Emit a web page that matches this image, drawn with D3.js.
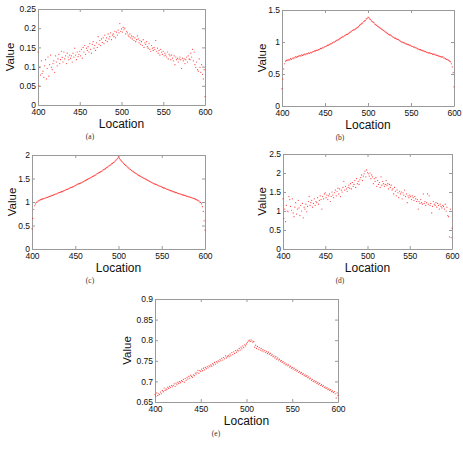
<!DOCTYPE html>
<html>
<head>
<meta charset="utf-8">
<script src="https://cdn.jsdelivr.net/npm/d3@7"></script>
<style>
  html, body { margin: 0; padding: 0; background: #fff; }
  svg { display: block; }
</style>
</head>
<body>
<script>
// ---------- data ----------
const locationStart = 400;
const locationEnd = 600;
const locations = d3.range(locationStart, locationEnd + 1);
const xTicks = [400, 450, 500, 550, 600];

const valuesA = [
  0.138,0.050,0.098,0.078,0.115,0.082,0.088,0.072,0.102,0.118,
  0.068,0.095,0.125,0.075,0.105,0.130,0.098,0.092,0.108,0.115,
  0.085,0.128,0.112,0.102,0.120,0.132,0.108,0.118,0.140,0.124,
  0.112,0.138,0.120,0.128,0.108,0.135,0.125,0.118,0.130,0.122,
  0.128,0.112,0.135,0.125,0.148,0.130,0.118,0.138,0.126,0.132,
  0.140,0.128,0.145,0.122,0.150,0.138,0.155,0.132,0.148,0.142,
  0.152,0.138,0.160,0.145,0.135,0.158,0.165,0.148,0.155,0.142,
  0.162,0.150,0.178,0.158,0.168,0.155,0.172,0.163,0.175,0.160,
  0.182,0.168,0.175,0.165,0.185,0.172,0.178,0.188,0.170,0.182,
  0.185,0.178,0.192,0.175,0.190,0.182,0.195,0.188,0.212,0.192,
  0.198,0.190,0.202,0.196,0.200,0.185,0.192,0.188,0.182,0.178,
  0.185,0.175,0.180,0.172,0.178,0.168,0.175,0.165,0.170,0.180,
  0.172,0.162,0.168,0.158,0.165,0.155,0.170,0.150,0.162,0.158,
  0.165,0.152,0.148,0.160,0.145,0.140,0.155,0.148,0.142,0.150,
  0.145,0.168,0.140,0.148,0.135,0.142,0.130,0.145,0.138,0.132,
  0.140,0.128,0.135,0.130,0.125,0.138,0.120,0.132,0.128,0.118,
  0.130,0.122,0.115,0.128,0.105,0.125,0.118,0.122,0.112,0.120,
  0.125,0.118,0.095,0.122,0.115,0.120,0.108,0.118,0.125,0.112,
  0.128,0.120,0.118,0.135,0.125,0.145,0.115,0.138,0.105,0.098,
  0.112,0.092,0.088,0.120,0.098,0.085,0.105,0.080,0.068,0.092,
  0.022
];

const valuesB = [
  0.27,0.42,0.58,0.66,0.70,0.71,0.72,0.71,0.73,0.72,
  0.74,0.73,0.75,0.74,0.76,0.75,0.77,0.76,0.77,0.78,
  0.78,0.79,0.78,0.80,0.79,0.80,0.81,0.80,0.82,0.81,
  0.82,0.83,0.82,0.84,0.83,0.84,0.85,0.85,0.86,0.86,
  0.87,0.87,0.88,0.88,0.89,0.90,0.90,0.91,0.91,0.92,
  0.93,0.93,0.94,0.95,0.95,0.96,0.97,0.97,0.98,0.99,
  1.00,1.00,1.01,1.02,1.03,1.03,1.04,1.05,1.06,1.07,
  1.08,1.08,1.09,1.10,1.11,1.12,1.12,1.13,1.14,1.15,
  1.16,1.17,1.18,1.19,1.19,1.20,1.21,1.22,1.23,1.24,
  1.26,1.27,1.28,1.29,1.30,1.32,1.33,1.34,1.36,1.37,
  1.39,1.38,1.36,1.35,1.33,1.32,1.31,1.30,1.28,1.27,
  1.26,1.25,1.24,1.23,1.22,1.21,1.20,1.19,1.18,1.17,
  1.16,1.15,1.14,1.13,1.12,1.11,1.11,1.10,1.09,1.08,
  1.07,1.06,1.06,1.05,1.04,1.04,1.03,1.02,1.01,1.00,
  1.00,0.99,0.99,0.98,0.97,0.97,0.96,0.96,0.95,0.95,
  0.94,0.93,0.93,0.92,0.92,0.91,0.91,0.90,0.89,0.89,
  0.88,0.88,0.87,0.87,0.86,0.86,0.85,0.85,0.84,0.84,
  0.83,0.83,0.83,0.82,0.82,0.81,0.81,0.81,0.80,0.80,
  0.79,0.79,0.78,0.78,0.77,0.77,0.76,0.77,0.75,0.75,
  0.74,0.73,0.73,0.72,0.71,0.70,0.69,0.66,0.61,0.52,
  0.30
];

const valuesC = [
  0.43,0.65,0.84,0.92,0.96,0.99,1.00,1.02,1.03,1.04,
  1.05,1.06,1.06,1.07,1.08,1.08,1.09,1.10,1.10,1.11,
  1.12,1.12,1.13,1.14,1.14,1.15,1.16,1.17,1.17,1.18,
  1.19,1.20,1.20,1.21,1.22,1.22,1.23,1.24,1.25,1.26,
  1.27,1.27,1.28,1.29,1.30,1.31,1.31,1.32,1.33,1.34,
  1.35,1.36,1.37,1.38,1.39,1.39,1.40,1.41,1.42,1.43,
  1.44,1.45,1.46,1.47,1.48,1.49,1.50,1.51,1.52,1.53,
  1.54,1.55,1.56,1.57,1.58,1.60,1.61,1.62,1.63,1.64,
  1.65,1.66,1.68,1.69,1.70,1.71,1.73,1.74,1.75,1.77,
  1.78,1.79,1.81,1.82,1.84,1.85,1.87,1.89,1.91,1.93,
  1.96,1.93,1.90,1.88,1.86,1.84,1.82,1.80,1.78,1.77,
  1.75,1.73,1.72,1.70,1.69,1.67,1.66,1.65,1.63,1.62,
  1.61,1.60,1.58,1.57,1.56,1.55,1.54,1.53,1.52,1.51,
  1.50,1.49,1.48,1.47,1.46,1.45,1.44,1.43,1.42,1.41,
  1.40,1.39,1.38,1.38,1.37,1.36,1.35,1.34,1.34,1.33,
  1.32,1.31,1.30,1.30,1.29,1.28,1.27,1.27,1.26,1.25,
  1.24,1.24,1.23,1.22,1.22,1.21,1.20,1.20,1.19,1.18,
  1.18,1.17,1.17,1.16,1.15,1.15,1.14,1.14,1.13,1.12,
  1.12,1.11,1.11,1.10,1.10,1.09,1.08,1.08,1.07,1.06,
  1.05,1.04,1.03,1.02,1.00,0.99,0.96,0.90,0.80,0.60,
  0.40
];

const valuesD = [
  1.32,0.80,1.05,0.72,1.15,1.00,0.98,1.38,1.30,1.12,
  1.02,1.32,0.95,0.85,1.10,1.22,0.92,1.05,1.28,1.08,
  0.88,1.15,1.00,1.20,0.82,1.10,1.05,1.18,0.98,1.12,
  1.25,1.38,1.15,1.22,1.28,1.10,1.20,1.32,1.15,1.25,
  1.22,1.35,1.18,1.28,1.40,1.30,1.05,1.38,1.32,1.45,
  1.48,1.35,1.42,1.30,1.40,1.45,1.25,1.38,1.50,1.42,
  1.35,1.48,1.55,1.40,1.52,1.60,1.45,1.58,1.38,1.55,
  1.50,1.62,1.78,1.55,1.65,1.58,1.52,1.62,1.68,1.60,
  1.72,1.58,1.75,1.65,1.70,1.80,1.62,1.85,1.72,1.78,
  1.70,1.82,1.88,1.95,1.80,1.92,1.98,2.05,1.90,2.08,
  2.02,1.98,1.92,2.00,1.85,1.95,1.90,1.72,1.85,1.78,
  1.88,1.65,1.80,1.70,1.75,1.62,1.90,1.68,1.78,1.72,
  1.65,1.70,1.80,1.68,1.72,1.58,1.70,1.62,1.68,1.55,
  1.58,1.45,1.62,1.52,1.40,1.55,1.48,1.35,1.52,1.45,
  1.50,1.32,1.48,1.42,1.55,1.38,1.45,1.22,1.40,1.35,
  1.42,1.38,1.30,1.40,1.35,1.28,1.38,1.32,1.25,1.30,
  1.05,1.25,1.20,1.30,1.22,1.18,1.45,1.20,1.25,1.15,
  1.22,1.45,1.18,1.40,1.15,1.20,0.95,1.12,1.25,1.18,
  1.15,1.22,1.10,1.20,1.15,1.05,1.18,1.12,1.08,1.15,
  1.12,1.05,1.18,1.00,1.10,0.88,0.85,0.32,1.05,0.30,
  0.55
];

const valuesE = [
  0.668,0.664,0.672,0.666,0.670,0.668,0.674,0.670,0.678,0.675,
  0.684,0.678,0.682,0.680,0.686,0.683,0.688,0.685,0.690,0.687,
  0.690,0.694,0.688,0.696,0.692,0.698,0.695,0.700,0.697,0.702,
  0.700,0.705,0.698,0.707,0.703,0.710,0.706,0.712,0.708,0.715,
  0.712,0.710,0.716,0.714,0.720,0.718,0.722,0.727,0.720,0.726,
  0.724,0.730,0.726,0.732,0.728,0.734,0.731,0.736,0.733,0.738,
  0.736,0.740,0.737,0.743,0.740,0.746,0.742,0.748,0.745,0.750,
  0.748,0.753,0.750,0.756,0.752,0.758,0.755,0.762,0.757,0.760,
  0.763,0.760,0.766,0.762,0.770,0.765,0.772,0.768,0.775,0.771,
  0.776,0.774,0.780,0.776,0.783,0.779,0.786,0.782,0.789,0.786,
  0.791,0.795,0.798,0.800,0.797,0.801,0.798,0.795,0.797,0.783,
  0.788,0.780,0.785,0.778,0.782,0.776,0.780,0.774,0.777,0.772,
  0.775,0.770,0.773,0.768,0.771,0.766,0.768,0.763,0.765,0.760,
  0.762,0.757,0.760,0.754,0.757,0.752,0.754,0.749,0.751,0.746,
  0.748,0.743,0.745,0.740,0.742,0.738,0.740,0.735,0.737,0.732,
  0.734,0.730,0.732,0.727,0.729,0.725,0.727,0.722,0.724,0.720,
  0.722,0.717,0.719,0.714,0.716,0.712,0.714,0.709,0.711,0.706,
  0.708,0.703,0.705,0.700,0.702,0.698,0.700,0.695,0.697,0.693,
  0.695,0.690,0.692,0.688,0.690,0.685,0.687,0.683,0.685,0.680,
  0.682,0.678,0.680,0.675,0.677,0.673,0.675,0.670,0.660,0.672,
  0.666
];

const yTicksA = [0, 0.05, 0.1, 0.15, 0.2, 0.25];
const yLabelsA = ["0", "0.05", "0.1", "0.15", "0.2", "0.25"];
const yTicksB = [0, 0.5, 1, 1.5];
const yLabelsB = ["0", "0.5", "1", "1.5"];
const yTicksC = [0, 0.5, 1, 1.5, 2];
const yLabelsC = ["0", "0.5", "1", "1.5", "2"];
const yTicksD = [0, 0.5, 1, 1.5, 2, 2.5];
const yLabelsD = ["0", "0.5", "1", "1.5", "2", "2.5"];
const yTicksE = [0.65, 0.7, 0.75, 0.8, 0.85, 0.9];
const yLabelsE = ["0.65", "0.7", "0.75", "0.8", "0.85", "0.9"];

const captions = ["(a)", "(b)", "(c)", "(d)", "(e)"];
const xLabel = "Location";
const yLabel = "Value";

// ---------- layout ----------
const W = 463, H = 453;
const panels = [
  { values: valuesA, ticks: yTicksA, labels: yLabelsA, cap: captions[0], l: 38,  r: 205, t: 9,   b: 105, capX: 90,  vx: 10 },
  { values: valuesB, ticks: yTicksB, labels: yLabelsB, cap: captions[1], l: 282, r: 454, t: 10,  b: 106, capX: 340, vx: 262 },
  { values: valuesC, ticks: yTicksC, labels: yLabelsC, cap: captions[2], l: 32,  r: 205, t: 155, b: 249, capX: 90,  vx: 12 },
  { values: valuesD, ticks: yTicksD, labels: yLabelsD, cap: captions[3], l: 283, r: 452, t: 154, b: 249, capX: 340, vx: 262 },
  { values: valuesE, ticks: yTicksE, labels: yLabelsE, cap: captions[4], l: 155, r: 338, t: 299, b: 402, capX: 216, vx: 127 }
];

const FONT = "'Liberation Sans', Arial, sans-serif";
const AXIS = "#9a9a9a";

const svg = d3.select("body").append("svg").attr("width", W).attr("height", H);
svg.append("rect").attr("width", W).attr("height", H).attr("fill", "#fff");

function styleAxis(sel) {
  sel.select(".domain").attr("stroke", AXIS).attr("stroke-width", 1);
  sel.selectAll(".tick line").attr("stroke", AXIS).attr("stroke-width", 1);
  sel.selectAll(".tick text").attr("fill", "#111").style("font-family", FONT).style("font-size", "8.5px");
}

panels.forEach(p => {
  const x = d3.scaleLinear().domain([locationStart, locationEnd]).range([p.l, p.r]);
  const y = d3.scaleLinear().domain([p.ticks[0], p.ticks[p.ticks.length - 1]]).range([p.b, p.t]);
  const g = svg.append("g");

  g.append("g").attr("transform", `translate(0,${p.b})`)
    .call(d3.axisBottom(x).tickValues(xTicks).tickSize(-3).tickSizeOuter(0).tickPadding(3.5).tickFormat(d3.format("d")))
    .call(styleAxis);
  g.append("g").attr("transform", `translate(0,${p.t})`)
    .call(d3.axisTop(x).tickValues(xTicks).tickSize(-3).tickSizeOuter(0).tickFormat(""))
    .call(styleAxis);
  g.append("g").attr("transform", `translate(${p.l},0)`)
    .call(d3.axisLeft(y).tickValues(p.ticks).tickSize(-3).tickSizeOuter(0).tickPadding(2).tickFormat((d, i) => p.labels[i]))
    .call(styleAxis);
  g.append("g").attr("transform", `translate(${p.r},0)`)
    .call(d3.axisRight(y).tickValues(p.ticks).tickSize(-3).tickSizeOuter(0).tickFormat(""))
    .call(styleAxis);

  g.append("g").selectAll("circle").data(p.values).join("circle")
    .attr("cx", (d, i) => x(locations[i]))
    .attr("cy", d => y(d))
    .attr("r", 0.6)
    .attr("fill", "#ff1a1a")
    .attr("fill-opacity", 0.85);

  g.append("text")
    .attr("x", (p.l + p.r) / 2).attr("y", p.b + 23)
    .attr("text-anchor", "middle")
    .style("font-family", FONT).style("font-size", "12px").attr("fill", "#111")
    .text(xLabel);

  g.append("text")
    .attr("transform", `translate(${p.vx},${(p.t + p.b) / 2}) rotate(-90)`)
    .attr("text-anchor", "middle")
    .attr("dy", "0.35em")
    .style("font-family", FONT).style("font-size", "11.5px").attr("fill", "#111")
    .text(yLabel);

  g.append("text")
    .attr("x", p.capX).attr("y", p.b + 34)
    .attr("text-anchor", "middle")
    .style("font-family", "'Liberation Serif', 'Times New Roman', serif").style("font-size", "7.5px").attr("fill", "#333")
    .text(p.cap);
});
</script>
</body>
</html>
